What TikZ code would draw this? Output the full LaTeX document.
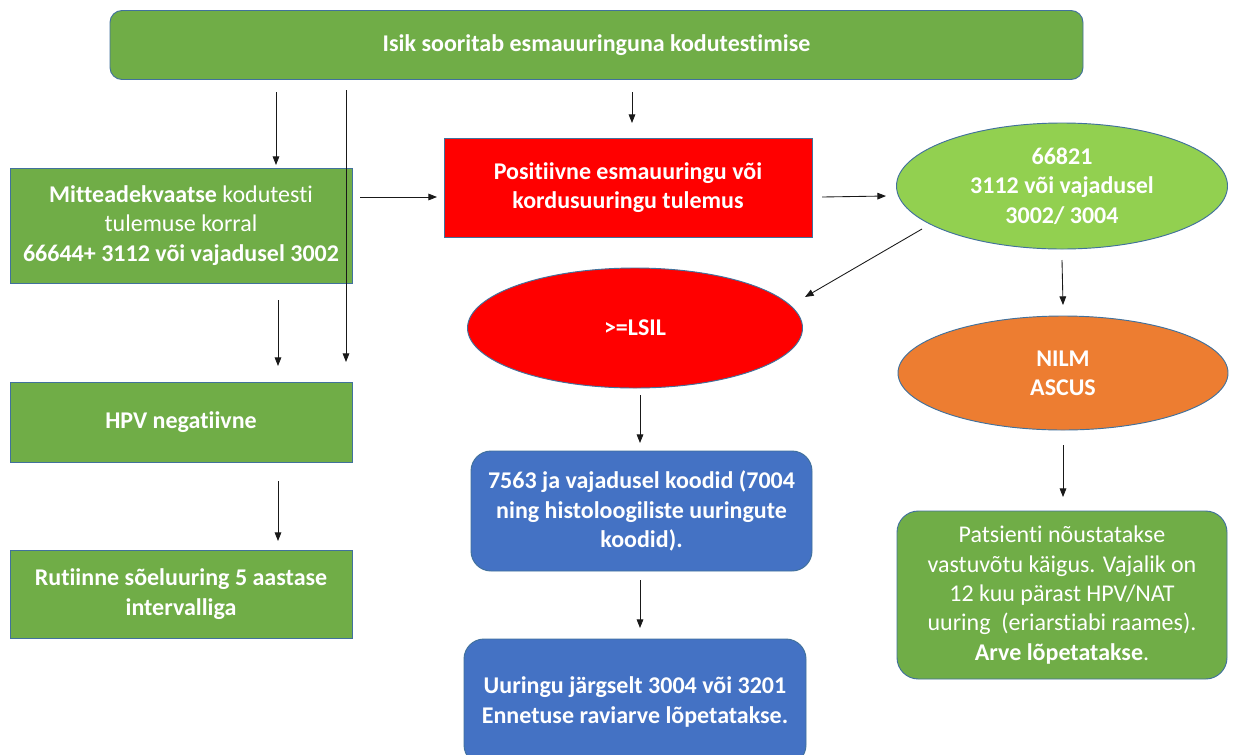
\documentclass[tikz,border=0pt]{standalone}
\usepackage{fontspec}
\setmainfont{Carlito}[Ligatures=NoCommon,RawFeature={-liga;-clig;-dlig}]
\usetikzlibrary{shapes.geometric,arrows.meta}
\definecolor{boxgreen}{HTML}{70AD47}
\definecolor{lightgreen}{HTML}{92D050}
\definecolor{boxred}{HTML}{FF0000}
\definecolor{boxorange}{HTML}{ED7D31}
\definecolor{boxblue}{HTML}{4472C4}
\definecolor{edge}{HTML}{41719C}
\tikzset{
  base/.style={draw=edge, line width=0.7pt, text=white, align=center, inner sep=0pt,
    font=\fontsize{18}{22}\selectfont},
  rbox/.style={base, rectangle},
  rounded/.style={base, rectangle, rounded corners=#1},
  oval/.style={base, ellipse},
  arr/.style={-{Triangle[length=6.5pt,width=5pt]}, line width=0.65pt, black!90},
}
\begin{document}
\begin{tikzpicture}[x=0.75pt,y=-0.75pt]
\clip (0,0) rectangle (1234,754);
\fill[white] (0,0) rectangle (1234,754);

\node[rounded=9pt, fill=boxgreen, minimum width=973*0.75pt, minimum height=69*0.75pt] (top) at (596.5,45)
  {\bfseries Isik sooritab esmauuringuna kodutestimise};

\node[rbox, fill=boxgreen, minimum width=342*0.75pt, minimum height=115*0.75pt] (mitte) at (181,225.5)
  {\textbf{Mitteadekvaatse} kodutesti\\tulemuse korral\\\textbf{66644+ 3112 või vajadusel 3002}};

\node[rbox, fill=boxgreen, minimum width=342*0.75pt, minimum height=80*0.75pt] (hpv) at (181,422)
  {\bfseries HPV negatiivne};

\node[rbox, fill=boxgreen, minimum width=342*0.75pt, minimum height=88*0.75pt] (rut) at (181,594)
  {\bfseries Rutiinne sõeluuring 5 aastase\\\bfseries intervalliga};

\node[rbox, fill=boxred, minimum width=368*0.75pt, minimum height=99*0.75pt] (pos) at (628,187.5)
  {\bfseries Positiivne esmauuringu või\\\bfseries kordusuuringu tulemus};

\node[oval, fill=lightgreen, minimum width=331*0.75pt, minimum height=126*0.75pt] (ell) at (1062,186)
  {\bfseries 66821\\\bfseries 3112 või vajadusel\\\bfseries 3002/ 3004};

\node[oval, fill=boxred, minimum width=335*0.75pt, minimum height=120*0.75pt] (lsil) at (635,328)
  {\bfseries >=LSIL};

\node[oval, fill=boxorange, minimum width=330*0.75pt, minimum height=114*0.75pt] (nilm) at (1063,373)
  {\bfseries NILM\\\bfseries ASCUS};

\node[rounded=15pt, fill=boxblue, minimum width=341*0.75pt, minimum height=120*0.75pt] (blue1) at (641.5,511)
  {\bfseries 7563 ja vajadusel koodid (7004\\\bfseries ning histoloogiliste uuringute\\\bfseries koodid).};

\node[rounded=15pt, fill=boxblue, minimum width=342*0.75pt, minimum height=126*0.75pt] (blue2) at (635,702)
  {\bfseries Uuringu järgselt 3004 või 3201\\\bfseries Ennetuse raviarve lõpetatakse.};

\node[rounded=16pt, fill=boxgreen, minimum width=330*0.75pt, minimum height=168*0.75pt] (pat) at (1062,595)
  {Patsienti nõustatakse\\vastuvõtu käigus. Vajalik on\\12 kuu pärast HPV/NAT\\uuring~ (eriarstiabi raames).\\\textbf{Arve lõpetatakse}.};

% connector end points
\coordinate (a1s) at (276,92);   \coordinate (a1e) at (276,165);
\coordinate (a2s) at (346,90);   \coordinate (a2e) at (346,362);
\coordinate (a3s) at (632,92);   \coordinate (a3e) at (632,123);
\coordinate (a4s) at (360,197);  \coordinate (a4e) at (437,197);
\coordinate (a5s) at (822,197);  \coordinate (a5e) at (886,196);
\coordinate (a6s) at (922,229);  \coordinate (a6e) at (805,297);
\coordinate (a7s) at (1062,260); \coordinate (a7e) at (1063,305);
\coordinate (a8s) at (278,300);  \coordinate (a8e) at (278,366);
\coordinate (a9s) at (278,481);  \coordinate (a9e) at (278,541);
\coordinate (a10s) at (640,395); \coordinate (a10e) at (640,443);
\coordinate (a11s) at (640,580); \coordinate (a11e) at (640,628);
\coordinate (a12s) at (1063,445);\coordinate (a12e) at (1063,497);

\draw[arr] (a1s) -- (a1e);
\draw[arr] (a2s) -- (a2e);
\draw[arr] (a3s) -- (a3e);
\draw[arr] (a4s) -- (a4e);
\draw[arr] (a5s) -- (a5e);
\draw[arr] (a6s) -- (a6e);
\draw[arr] (a7s) -- (a7e);
\draw[arr] (a8s) -- (a8e);
\draw[arr] (a9s) -- (a9e);
\draw[arr] (a10s) -- (a10e);
\draw[arr] (a11s) -- (a11e);
\draw[arr] (a12s) -- (a12e);
\end{tikzpicture}
\end{document}
